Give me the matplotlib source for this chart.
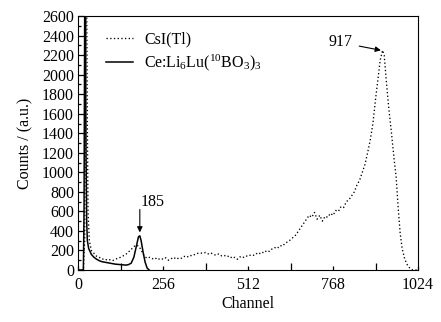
import matplotlib
matplotlib.use('Agg')
import matplotlib.pyplot as plt
from matplotlib.ticker import MultipleLocator

plt.rcParams['font.family'] = 'Liberation Serif'
plt.rcParams['mathtext.default'] = 'regular'

# CsI(Tl) spectrum (dotted)
csi_ch = [0, 16, 20, 22, 24, 26, 28, 30, 34, 40, 48, 56, 64, 72, 80, 88, 96, 104,
          112, 120, 128, 136, 144, 152, 160, 168, 176, 184, 192, 200, 208, 216, 224,
          232, 240, 248, 256, 264, 272, 280, 288, 296, 304, 312, 320, 328, 336, 344,
          352, 360, 368, 376, 384, 392, 400, 408, 416, 424, 432, 440, 448, 456, 464,
          472, 480, 488, 496, 504, 512, 520, 528, 536, 544, 552, 560, 568, 576, 584,
          592, 600, 608, 616, 624, 632, 640, 648, 656, 664, 672, 680, 688, 696, 704,
          712, 720, 728, 736, 744, 752, 760, 768, 776, 784, 792, 800, 808, 816, 824,
          832, 840, 848, 856, 864, 872, 880, 888, 896, 904, 910, 917, 922, 928, 936,
          944, 952, 958, 964, 970, 976, 984, 992, 1000, 1008, 1020]
csi_counts = [0, 0, 300, 1500, 2800, 2800, 1500, 600, 300, 200, 170, 140, 130, 110,
              115, 100, 105, 95, 110, 120, 130, 145, 160, 185, 210, 240, 255, 240, 190,
              140, 120, 130, 115, 125, 105, 120, 110, 125, 100, 115, 130, 110, 125, 120,
              140, 130, 150, 145, 160, 170, 175, 170, 180, 165, 175, 160, 150, 165, 145,
              150, 135, 145, 120, 130, 110, 135, 125, 145, 140, 155, 150, 170, 160, 185,
              175, 200, 190, 215, 230, 220, 250, 245, 275, 290, 310, 335, 360, 400, 440,
              480, 520, 560, 540, 590, 520, 560, 500, 550, 540, 580, 560, 610, 600, 650,
              640, 700, 720, 760, 800, 870, 920, 1000, 1080, 1200, 1330, 1500, 1750,
              1980, 2150, 2250, 2200, 1950, 1650, 1400, 1130, 950, 640, 380, 220, 110,
              50, 15, 0, 0]

# Ce:Li6Lu(10BO3)3 spectrum (solid)
llb_ch = [0, 16, 18, 20, 22, 24, 26, 28, 32, 40, 48, 56, 64, 72, 80, 96, 112, 128,
          144, 152, 160, 168, 176, 182, 186, 190, 196, 202, 208, 214]
llb_counts = [0, 0, 600, 2700, 2700, 1200, 500, 300, 220, 160, 130, 110, 95, 85, 80,
              70, 60, 55, 50, 55, 70, 130, 250, 340, 350, 300, 180, 80, 20, 0]

fig = plt.figure(figsize=(4.41, 3.22), dpi=100)
ax = fig.add_axes([0.177, 0.1615, 0.771, 0.7885])

ax.plot(csi_ch, csi_counts, color='k', ls=(0, (1, 1.8)), lw=0.95, label='CsI(Tl)')
ax.plot(llb_ch, llb_counts, color='k', ls='-', lw=1.1,
        label='Ce:Li$_6$Lu($^{10}$BO$_3$)$_3$')

ax.set_xlim(0, 1024)
ax.set_ylim(0, 2600)
ax.xaxis.set_major_locator(MultipleLocator(256))
ax.xaxis.set_minor_locator(MultipleLocator(128))
ax.yaxis.set_major_locator(MultipleLocator(200))
ax.yaxis.set_minor_locator(MultipleLocator(100))
ax.tick_params(which='both', direction='in', labelsize=11.5, width=0.9)
ax.tick_params(axis='x', which='major', length=3, pad=5)
ax.tick_params(axis='x', which='minor', length=5)
ax.tick_params(axis='y', which='major', length=4, pad=3)
ax.tick_params(axis='y', which='minor', length=2.5)

ax.set_xlabel('Channel', fontsize=11.5, labelpad=2)
ax.set_ylabel('Counts / (a.u.)', fontsize=11.5, labelpad=6)

ax.annotate('917', xy=(912, 2250), xytext=(790, 2330), fontsize=11.5,
            ha='center', va='center',
            arrowprops=dict(arrowstyle='-|>', color='k', lw=0.8,
                            mutation_scale=8, shrinkA=3, shrinkB=0))
ax.text(226, 700, '185', fontsize=11.5, ha='center', va='center')
ax.annotate('', xy=(186, 385), xytext=(186, 620),
            arrowprops=dict(arrowstyle='-|>', color='k', lw=0.8,
                            mutation_scale=8, shrinkA=0, shrinkB=0))

ax.legend(loc='upper left', frameon=False, fontsize=11.5, handlelength=1.7,
          bbox_to_anchor=(0.04, 0.995), labelspacing=0.3, handletextpad=0.7)

fig.savefig('out.png', dpi=100)
